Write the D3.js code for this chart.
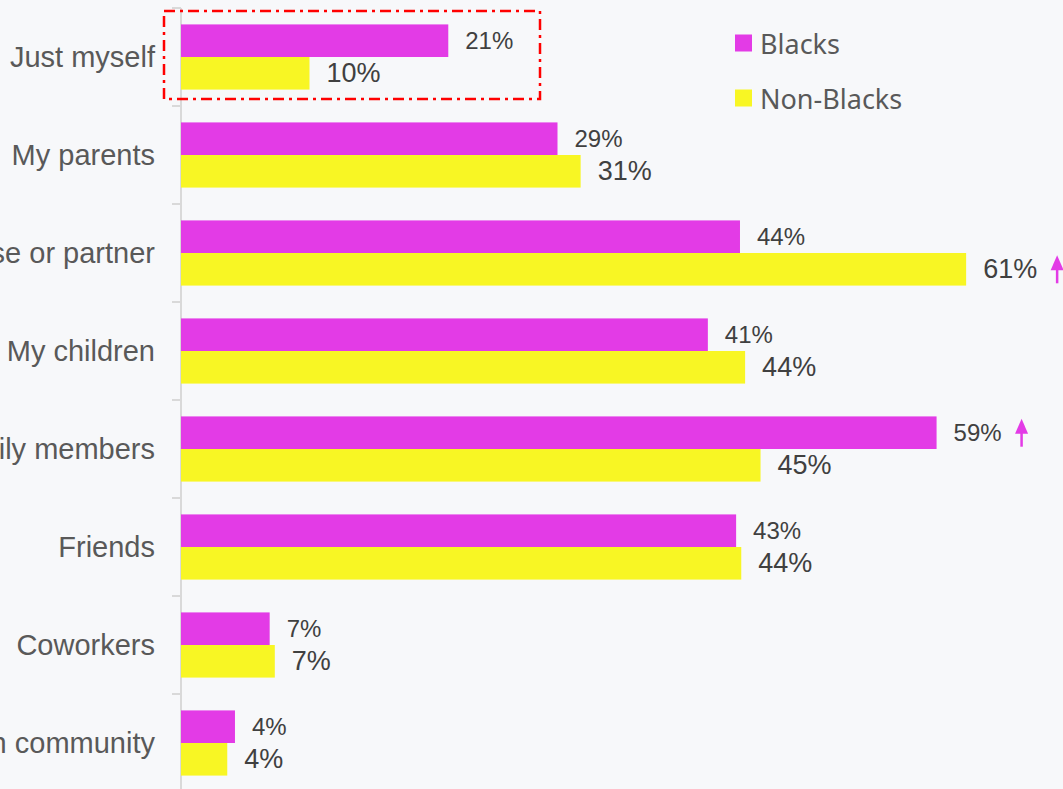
<!DOCTYPE html>
<html>
<head>
<meta charset="utf-8">
<script src="https://cdn.jsdelivr.net/npm/d3@7"></script>
<style>
  html, body { margin: 0; padding: 0; background: #f7f8fa; overflow: hidden; }
  svg { display: block; }
</style>
</head>
<body>
<svg id="canvas" width="1063" height="789"></svg>
<script>
// data
let categories = ["Just myself", "My parents", "My spouse or partner", "My children",
  "Other family members", "Friends", "Coworkers", "My church community"]
let seriesNames = ["Blacks", "Non-Blacks"]
let blacks = [20.8, 29.3, 43.5, 41.0, 58.8, 43.2, 6.9, 4.2]
let nonBlacks = [10.0, 31.1, 61.1, 43.9, 45.1, 43.6, 7.3, 3.6]
// categories where one group is significantly higher (arrow after that label)
let arrowMarks = [{cat: "My spouse or partner", series: "Non-Blacks"},
                  {cat: "Other family members", series: "Blacks"}]

let colors = {"Blacks": "#e33be6", "Non-Blacks": "#f8f624"}

let canvas = d3.select('#canvas')

let x = d3.scaleLinear().domain([0, 70]).range([181, 181 + 70 * 12.85])

let y0 = d3.scaleBand().domain(categories).range([8, 792])
  .paddingInner(0.335).paddingOuter(0.1675)
let y1 = d3.scaleBand().domain(seriesNames).range([0, y0.bandwidth()])

let rows = categories.map((c, i) => ({
  cat: c,
  values: [{name: "Blacks", v: blacks[i]}, {name: "Non-Blacks", v: nonBlacks[i]}]
}))

// axis line + ticks
let gap = y0.step() * y0.paddingInner() / 2
canvas.append('line')
  .attr('x1', x(0)).attr('x2', x(0))
  .attr('y1', 8).attr('y2', 789)
  .attr('stroke', '#d9d9d9').attr('stroke-width', 2)
canvas.append('g').selectAll('line')
  .data(categories)
  .enter().append('line')
  .attr('x1', x(0) - 9).attr('x2', x(0))
  .attr('y1', d => y0(d) - gap).attr('y2', d => y0(d) - gap)
  .attr('stroke', '#d9d9d9').attr('stroke-width', 2)

// category labels
canvas.append('g').selectAll('text')
  .data(categories)
  .enter().append('text')
  .attr('x', 155)
  .attr('y', d => y0(d) + y0.bandwidth() / 2)
  .attr('text-anchor', 'end')
  .attr('dominant-baseline', 'central')
  .attr('font-family', 'Liberation Sans, Arial, sans-serif')
  .attr('font-size', 29)
  .attr('fill', '#595959')
  .text(d => d)

// bars
let groups = canvas.append('g').selectAll('g')
  .data(rows)
  .enter().append('g')
  .attr('transform', d => 'translate(0,' + y0(d.cat) + ')')

groups.selectAll('rect')
  .data(d => d.values)
  .enter().append('rect')
  .attr('x', x(0))
  .attr('y', d => y1(d.name))
  .attr('width', d => x(d.v) - x(0))
  .attr('height', y1.bandwidth())
  .attr('fill', d => colors[d.name])

groups.selectAll('text')
  .data(d => d.values)
  .enter().append('text')
  .attr('x', d => x(d.v) + 17)
  .attr('y', d => y1(d.name) + y1.bandwidth() / 2)
  .attr('dominant-baseline', 'central')
  .attr('font-family', 'Liberation Sans, Arial, sans-serif')
  .attr('font-size', d => d.name == "Blacks" ? 24 : 27)
  .attr('fill', '#404040')
  .text(d => Math.round(d.v) + '%')

// arrows for significant differences
arrowMarks.forEach(m => {
  let i = categories.indexOf(m.cat)
  let v = m.series == "Blacks" ? blacks[i] : nonBlacks[i]
  let fs = m.series == "Blacks" ? 24 : 27
  let ax = x(v) + 17 + fs * 2.0 + 20
  let cy = y0(m.cat) + y1(m.series) + y1.bandwidth() / 2
  let g = canvas.append('g').attr('fill', colors["Blacks"]).attr('stroke', colors["Blacks"])
  g.append('line')
    .attr('x1', ax).attr('x2', ax)
    .attr('y1', cy - 4).attr('y2', cy + 14)
    .attr('stroke-width', 2.5)
  g.append('path')
    .attr('d', 'M' + (ax - 6.5) + ',' + (cy + 1) + 'L' + ax + ',' + (cy - 14) + 'L' + (ax + 6.5) + ',' + (cy + 1) + 'Z')
    .attr('stroke', 'none')
})

// dashed highlight box round the first category
canvas.append('rect')
  .attr('x', 164).attr('y', 11)
  .attr('width', 376).attr('height', 88)
  .attr('fill', 'none')
  .attr('stroke', '#ff0000')
  .attr('stroke-width', 2.5)
  .attr('stroke-dasharray', '11,5,3,5')

// legend
let legend = canvas.append('g').selectAll('g')
  .data(seriesNames)
  .enter().append('g')
  .attr('transform', (d, i) => 'translate(735,' + (43 + i * 55) + ')')
legend.append('rect')
  .attr('x', 0).attr('y', -8.5)
  .attr('width', 17).attr('height', 17)
  .attr('fill', d => colors[d])
legend.append('text')
  .attr('x', 25).attr('y', 0)
  .attr('dominant-baseline', 'central')
  .attr('font-family', 'Noto Sans, sans-serif')
  .attr('font-size', 27)
  .attr('fill', '#595959')
  .text(d => d)
</script>
</body>
</html>
